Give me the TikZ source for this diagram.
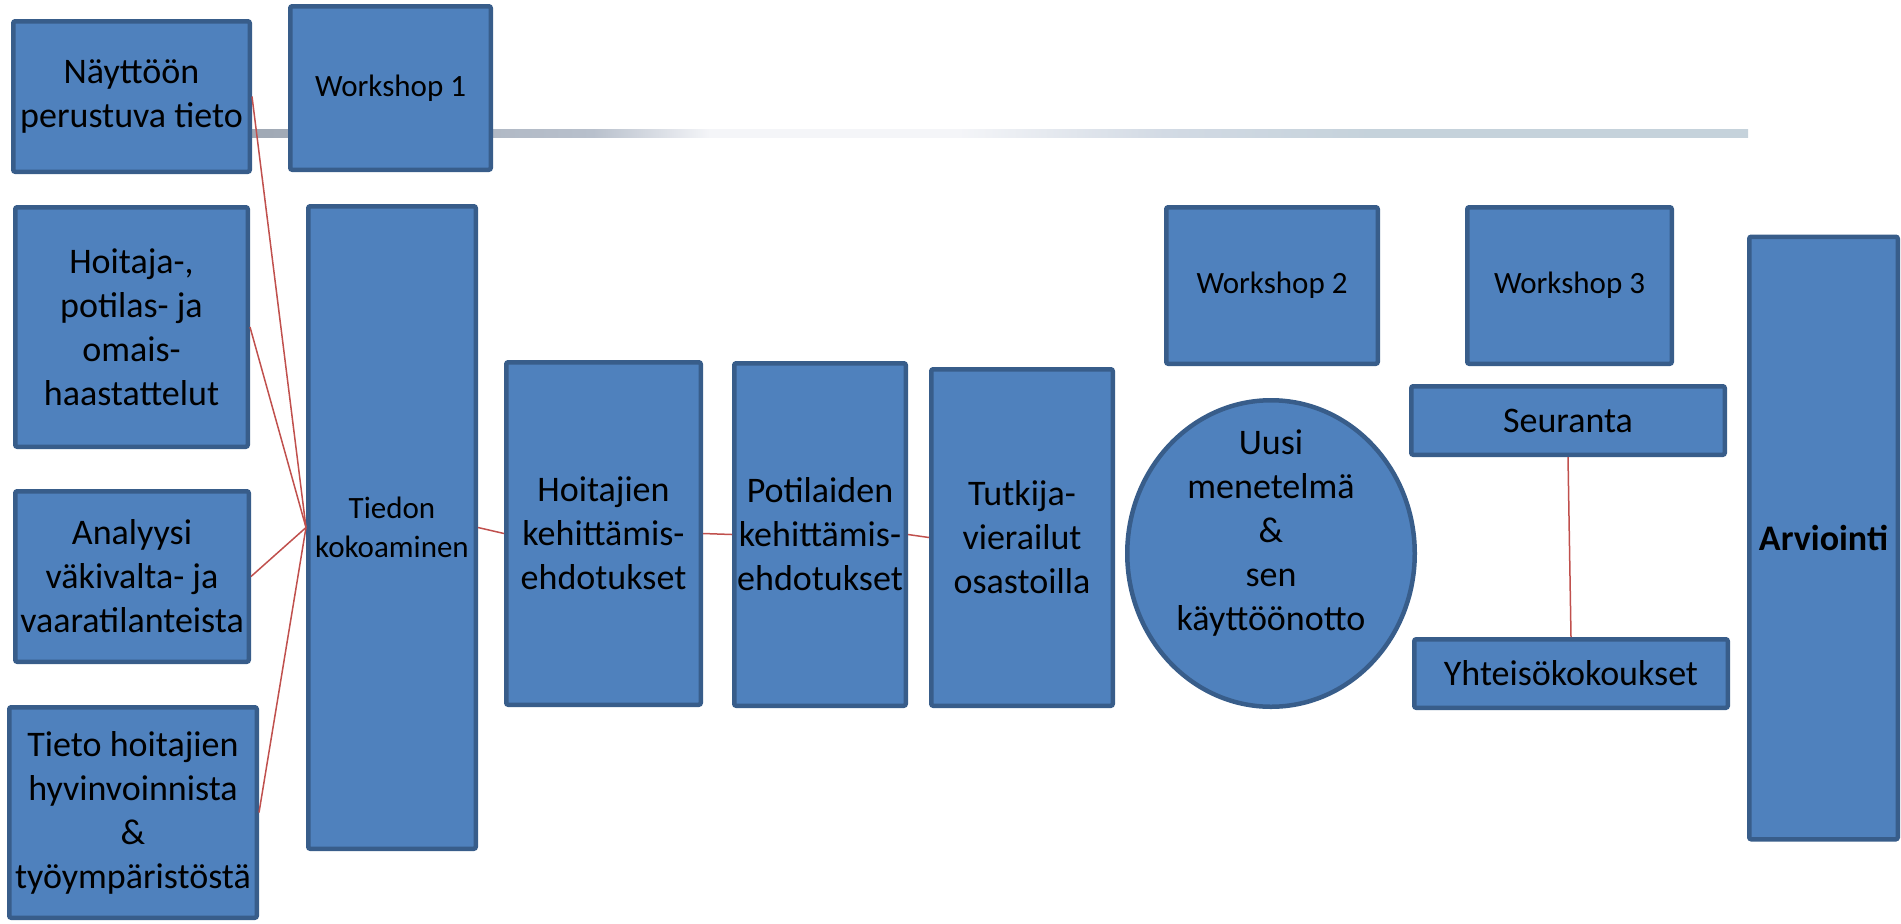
\documentclass[tikz,border=0pt]{standalone}
\usepackage{fontspec}
\setmainfont{Carlito}
\usepackage{tikz}
\usetikzlibrary{shapes.geometric}
\definecolor{boxfill}{HTML}{4F81BD}
\definecolor{boxline}{HTML}{385D8A}
\definecolor{linkred}{HTML}{C0504D}
\definecolor{barA}{HTML}{9FA8B4}
\definecolor{barB}{HTML}{B8C0CC}
\definecolor{barC}{HTML}{F4F5F8}
\definecolor{barD}{HTML}{D2DAE4}
\definecolor{barE}{HTML}{C5D2DB}
\pgfdeclarehorizontalshading{barshade}{100bp}{color(0bp)=(barA); color(25bp)=(barA); color(36.4bp)=(barB); color(40.3bp)=(barC); color(48.6bp)=(barC); color(55.5bp)=(barD); color(62.4bp)=(barE); color(100bp)=(barE)}

\begin{document}
\begin{tikzpicture}[x=0.5pt,y=-0.5pt,
    box/.style={draw=boxline,fill=boxfill,line width=2.25pt,rounded corners=1pt,
        inner sep=0pt,align=center,text=black,font=\fontsize{18}{22}\selectfont},
    small/.style={font=\fontsize{15.5}{19.5}\selectfont},
    link/.style={draw=linkred,line width=0.75pt}]
    \useasboundingbox (0,0) rectangle (1901,923);
    \shade[shading=barshade] (252,129) rectangle (1748,137);
    \node[box,minimum width=118.25pt,minimum height=75.25pt] (naytto) at (131.5,96.5) {Näyttöön\\perustuva tieto};
    \node[box,small,minimum width=100.25pt,minimum height=81.75pt] (ws1) at (390.5,88) {Workshop 1};
    \node[box,minimum width=116.25pt,minimum height=119.75pt] (hoitaja) at (131.5,327) {Hoitaja-,\\potilas- ja\\omais-\\haastattelut};
    \node[box,minimum width=116.75pt,minimum height=85.25pt] (analyysi) at (132,576.5) {Analyysi\\väkivalta- ja\\vaaratilanteista};
    \node[box,minimum width=123.75pt,minimum height=105.25pt] (tieto) at (133,812.5) {Tieto hoitajien\\hyvinvoinnista\\\&\\työympäristöstä};
    \node[box,small,minimum width=83.75pt,minimum height=321.25pt] (tiedon) at (392,527.5) {Tiedon\\kokoaminen};
    \node[box,minimum width=97.25pt,minimum height=171.25pt] (hke) at (603.5,533.5) {Hoitajien\\kehittämis-\\ehdotukset};
    \node[box,minimum width=85.75pt,minimum height=171.25pt] (pke) at (820,534.5) {Potilaiden\\kehittämis-\\ehdotukset};
    \node[box,minimum width=90.75pt,minimum height=168.25pt] (tutkija) at (1022,537.5) {Tutkija-\\vierailut\\osastoilla};
    \node[box,ellipse,minimum width=143.75pt,minimum height=153.25pt,
        label={[font=\fontsize{18}{22}\selectfont,align=center,yshift=10pt]center:Uusi\\menetelmä\\\&\\sen\\käyttöönotto}] (uusi) at (1271,553.5) {};
    \node[box,small,minimum width=105.75pt,minimum height=78.25pt] (ws2) at (1272,285.5) {Workshop 2};
    \node[box,small,minimum width=102.25pt,minimum height=78.25pt] (ws3) at (1569.5,285.5) {Workshop 3};
    \node[box,minimum width=156.75pt,minimum height=34.25pt] (seuranta) at (1568,420.5) {Seuranta};
    \node[box,minimum width=156.75pt,minimum height=34.25pt] (yhteiso) at (1571,673.5) {Yhteisökokoukset};
    \node[box,font=\fontsize{18}{22}\selectfont\bfseries,minimum width=74.25pt,minimum height=301.25pt] (arviointi) at (1823.5,538) {Arviointi};
    \draw[link] (naytto.east) -- (tiedon.west);
    \draw[link] (hoitaja.east) -- (tiedon.west);
    \draw[link] (analyysi.east) -- (tiedon.west);
    \draw[link] (tieto.east) -- (tiedon.west);
    \draw[link] (tiedon.east) -- (hke.west);
    \draw[link] (hke.east) -- (pke.west);
    \draw[link] (pke.east) -- (tutkija.west);
    \draw[link] (seuranta.south) -- (yhteiso.north);
\end{tikzpicture}
\end{document}
